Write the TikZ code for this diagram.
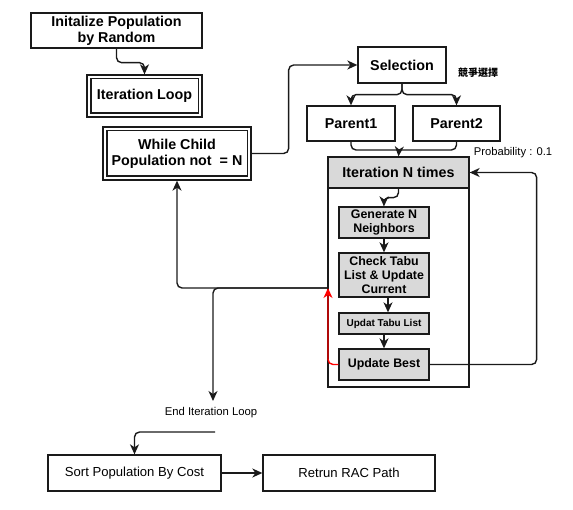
\documentclass[tikz,border=0pt]{standalone}
\usepackage{fontspec}
\setmainfont{Liberation Sans}
\newfontfamily\cjk{Noto Sans CJK TC}
\usetikzlibrary{arrows.meta}
\definecolor{boxgray}{HTML}{D9D9D9}
\definecolor{lncol}{HTML}{1A1A1A}
\tikzset{
  box/.style={draw=lncol, line width=1.3pt, fill=white, inner sep=0pt, align=center, font=\fontsize{14.3}{16}\selectfont\bfseries},
  gbox/.style={box, fill=boxgray, font=\fontsize{12.4}{14}\selectfont\bfseries},
  pbox/.style={box, font=\fontsize{13.1}{15}\selectfont},
  inner/.style={draw=lncol, line width=1.3pt},
  arr/.style={draw=lncol, line width=1.4pt, rounded corners=5pt, -{Stealth[length=10pt,width=9pt,inset=3pt]}},
  ln/.style={draw=lncol, line width=1.4pt, rounded corners=5pt},
}
\begin{document}
\begin{tikzpicture}[x=1pt,y=-1pt]
\useasboundingbox (0,0) rectangle (573,510);
% top-left
\node[box, minimum width=171pt, minimum height=35pt] (init) at (116.5,30.5) {Initalize Population\\by Random};
\node[box, minimum width=115pt, minimum height=42pt] (loop) at (144.5,96) {Iteration Loop};
\draw[inner] ([xshift=4.5pt,yshift=-4.5pt]loop.north west) rectangle ([xshift=-4.5pt,yshift=4.5pt]loop.south east);
\node[box, minimum width=148pt, minimum height=53pt] (while) at (177,153.5) {While Child\\Population not~~= N};
\draw[inner] ([xshift=4.5pt,yshift=-4.5pt]while.north west) rectangle ([xshift=-4.5pt,yshift=4.5pt]while.south east);
% selection
\node[box, minimum width=88pt, minimum height=36pt] (sel) at (402,65) {Selection};
\node[font=\cjk\fontsize{10}{12}\selectfont\bfseries] (cjk) at (478,73) {競爭選擇};
\node[box, minimum width=88pt, minimum height=35pt] (p1) at (351,123.5) {Parent1};
\node[box, minimum width=87pt, minimum height=35pt] (p2) at (456.5,123.5) {Parent2};
\node[font=\fontsize{11.2}{13}\selectfont] (prob) at (513,153) {Probability : 0.1};
% iteration container
\node[box, minimum width=141pt, minimum height=230pt] (cont) at (398.5,272) {};
\node[box, fill=boxgray, minimum width=141pt, minimum height=31pt, font=\fontsize{14.3}{16}\selectfont\bfseries] (hdr) at (398.5,172.5) {Iteration N times};
\node[gbox, minimum width=90pt, minimum height=31pt] (gen) at (384,222.5) {Generate N\\Neighbors};
\node[gbox, minimum width=90pt, minimum height=44pt] (check) at (384,275) {Check Tabu\\List \& Update\\Current};
\node[gbox, minimum width=90pt, minimum height=21pt, font=\fontsize{10}{12}\selectfont\bfseries] (tabu) at (384,323.5) {Updat Tabu List};
\node[gbox, minimum width=90pt, minimum height=31pt] (best) at (384,364.5) {Update Best};
% bottom
\node[font=\fontsize{11.3}{13}\selectfont] (endl) at (211,413) {End Iteration Loop};
\node[pbox, minimum width=173pt, minimum height=36pt] (sort) at (134.5,473) {Sort Population By Cost};
\node[pbox, minimum width=172pt, minimum height=36pt] (ret) at (349,473) {Retrun RAC Path};
% coordinates
\coordinate (merge) at (399,150);
\coordinate (j) at (328,288);
\coordinate (e) at (213,401);
\coordinate (s0) at (215,432);
% connectors
\draw[arr] (init.south) -- ++(0,14) -| (loop.north);
\draw[arr] (while.east) -- ++(37,0) |- (sel.west);
\draw[arr] (sel.south) -- ++(0,11) -| (p1.north);
\draw[arr] (sel.south) -- ++(0,11) -| (p2.north);
\draw[ln] (p1.south) |- (merge);
\draw[ln] (p2.south) |- (merge);
\draw[arr] (merge) -- (hdr.north);
\draw[arr] (hdr.south) -- ++(0,9) -| (gen.north);
\draw[arr] (gen.south) -- (check.north);
\draw[arr] ([xshift=4pt]check.south) -- ([xshift=4pt]tabu.north);
\draw[arr] (tabu.south) -- (best.north);
\draw[arr, draw=red] (best.west) -| (j);
\draw[arr] (best.east) -- ++(107,0) |- (hdr.east);
\draw[arr] (j) -| (while.south);
\draw[arr] (j) -| (e);
\draw[arr] (s0) -| (sort.north);
\draw[arr] (sort.east) -- (ret.west);
\end{tikzpicture}
\end{document}
